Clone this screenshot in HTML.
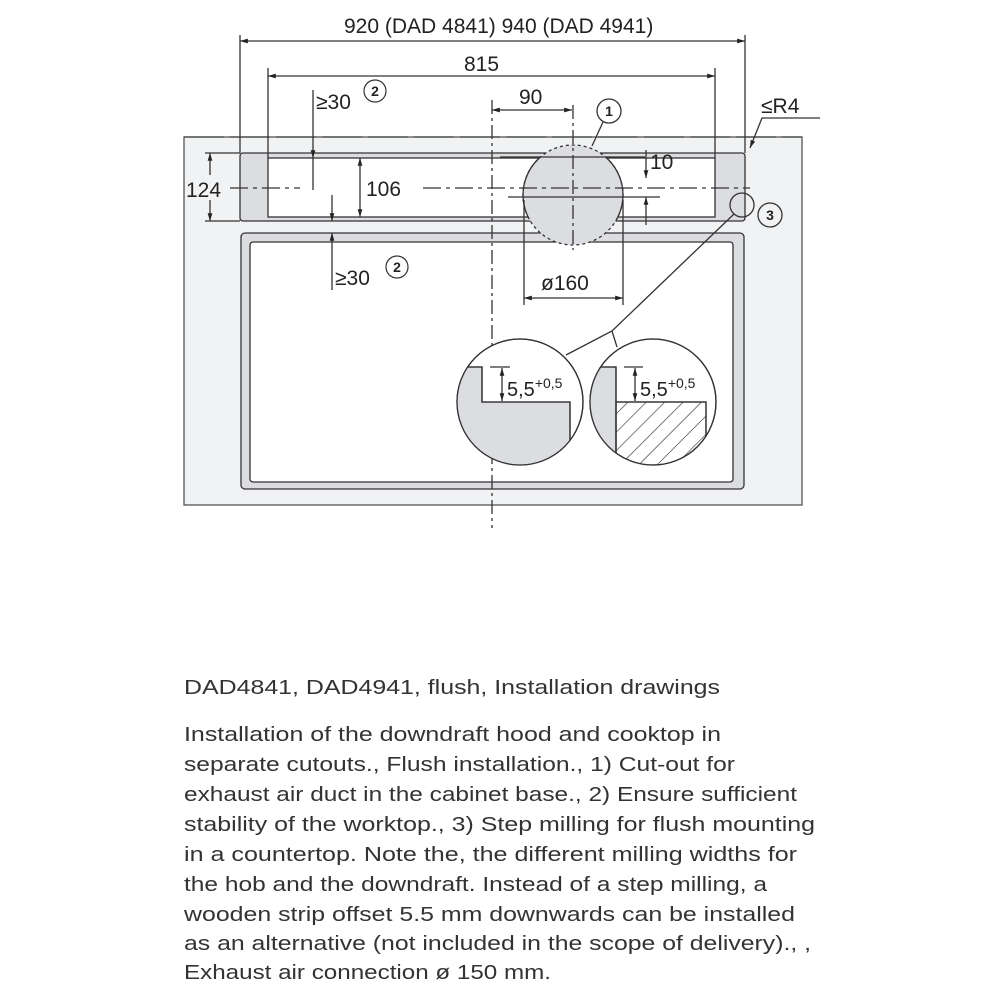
<!DOCTYPE html>
<html><head><meta charset="utf-8"><style>
html,body{margin:0;padding:0;background:#fff;width:1000px;height:1000px;overflow:hidden}
svg{display:block}
text{font-family:"Liberation Sans",sans-serif}
</style></head><body>
<svg width="1000" height="1000" viewBox="0 0 1000 1000" xmlns="http://www.w3.org/2000/svg">
<defs>
<marker id="a" viewBox="0 0 10 10" refX="10" refY="5" markerWidth="10" markerHeight="6" orient="auto-start-reverse"><path d="M0,2 L10,5 L0,8 z" fill="#222"/></marker>
<pattern id="h" patternUnits="userSpaceOnUse" width="13" height="13" patternTransform="rotate(45)"><line x1="0" y1="0" x2="0" y2="13" stroke="#333" stroke-width="1.3"/></pattern>
<clipPath id="cl"><circle cx="520" cy="402" r="63"/></clipPath>
<clipPath id="cr"><circle cx="653" cy="402" r="63"/></clipPath>
<clipPath id="band"><rect x="500" y="157" width="150" height="62"/></clipPath>
</defs>
<g stroke="#333" fill="none" stroke-width="1.3">
<rect x="184" y="137" width="618" height="368" fill="#f1f2f4" stroke="#555"/>
<rect x="240" y="153" width="505" height="68" rx="3" fill="#dcdde0"/>
<rect x="268" y="158" width="447" height="59" fill="#fff"/>
<rect x="241" y="233" width="503" height="256" rx="4" fill="#dcdde0"/>
<rect x="250" y="242" width="483" height="240" rx="3" fill="#fff"/>
<circle cx="573" cy="195" r="50" fill="#dcdde0" stroke-dasharray="3,3"/>
<circle cx="573" cy="195" r="50" clip-path="url(#band)"/>
<line x1="500" y1="157" x2="645" y2="157"/>
<line x1="492" y1="100" x2="492" y2="528" stroke-dasharray="14,4,3,4"/>
<line x1="573" y1="105" x2="573" y2="250" stroke-dasharray="14,4,3,4"/>
<line x1="230" y1="188" x2="300" y2="188" stroke-dasharray="18,5,4,5"/>
<line x1="423" y1="188" x2="750" y2="188" stroke-dasharray="18,5,4,5"/>
<line x1="508" y1="197" x2="660" y2="197"/>
<line x1="184" y1="137" x2="802" y2="137" stroke-dasharray="40,6" stroke="#444"/>
<line x1="240" y1="35" x2="240" y2="153"/>
<line x1="745" y1="35" x2="745" y2="153"/>
<line x1="240" y1="41" x2="745" y2="41" marker-start="url(#a)" marker-end="url(#a)"/>
<line x1="268" y1="68" x2="268" y2="158"/>
<line x1="715" y1="68" x2="715" y2="158"/>
<line x1="268" y1="76" x2="715" y2="76" marker-start="url(#a)" marker-end="url(#a)"/>
<line x1="492" y1="110" x2="572" y2="110" marker-start="url(#a)" marker-end="url(#a)"/>
<line x1="313" y1="90" x2="313" y2="158" marker-end="url(#a)"/>
<line x1="313" y1="158" x2="313" y2="190"/>
<line x1="332" y1="195" x2="332" y2="221" marker-end="url(#a)"/>
<line x1="332" y1="290" x2="332" y2="233" marker-end="url(#a)"/>
<line x1="360" y1="158" x2="360" y2="217" marker-start="url(#a)" marker-end="url(#a)"/>
<line x1="205" y1="153" x2="240" y2="153"/>
<line x1="205" y1="221" x2="240" y2="221"/>
<line x1="210" y1="153" x2="210" y2="175" marker-start="url(#a)"/>
<line x1="210" y1="200" x2="210" y2="221" marker-end="url(#a)"/>
<line x1="646" y1="150" x2="646" y2="178" marker-end="url(#a)"/>
<line x1="646" y1="225" x2="646" y2="197" marker-end="url(#a)"/>
<line x1="524" y1="200" x2="524" y2="305"/>
<line x1="623" y1="200" x2="623" y2="305"/>
<line x1="524" y1="298" x2="623" y2="298" marker-start="url(#a)" marker-end="url(#a)"/>
<polyline points="820,118 762,118 750,148" marker-end="url(#a)"/>
<circle cx="609" cy="111" r="12"/>
<line x1="603" y1="122" x2="592" y2="146"/>
<circle cx="770" cy="215" r="12"/>
<circle cx="742" cy="205" r="12"/>
<polyline points="734,214 612,331 566,355"/>
<line x1="612" y1="331" x2="617" y2="347"/>
<circle cx="520" cy="402" r="63" fill="#fff"/>
<g clip-path="url(#cl)">
<path d="M440,367 L482,367 L482,402 L570,402 L570,480 L440,480 z" fill="#dcdde0"/>
<polyline points="440,367 482,367 482,402 570,402 570,480"/>
<line x1="490" y1="367" x2="510" y2="367"/>
</g>
<circle cx="520" cy="402" r="63"/>
<circle cx="653" cy="402" r="63" fill="#fff"/>
<g clip-path="url(#cr)">
<path d="M580,367 L616,367 L616,480 L580,480 z" fill="#dcdde0"/>
<rect x="616" y="402" width="90" height="80" fill="url(#h)"/>
<polyline points="580,367 616,367 616,480"/>
<polyline points="616,402 706,402 706,480"/>
<line x1="624" y1="367" x2="643" y2="367"/>
</g>
<circle cx="653" cy="402" r="63"/>
<line x1="502" y1="368" x2="502" y2="401" marker-start="url(#a)" marker-end="url(#a)"/>
<line x1="635" y1="368" x2="635" y2="401" marker-start="url(#a)" marker-end="url(#a)"/>
</g>
<g fill="#222" font-size="21">
<text x="344" y="33">920 (DAD 4841) 940 (DAD 4941)</text>
<text x="464" y="71">815</text>
<text x="519" y="104">90</text>
<text x="316" y="109">≥30</text>
<text x="335" y="285">≥30</text>
<text x="366" y="196">106</text>
<text x="186" y="197">124</text>
<text x="650" y="169">10</text>
<text x="541" y="290">ø160</text>
<text x="761" y="113">≤R4</text>
<text x="507" y="396" font-size="20">5,5<tspan font-size="14" dy="-8">+0,5</tspan></text>
<text x="640" y="396" font-size="20">5,5<tspan font-size="14" dy="-8">+0,5</tspan></text>
</g>
<g fill="none" stroke="#333" stroke-width="1.2"><circle cx="375" cy="91" r="11"/><circle cx="397" cy="267" r="11"/></g>
<g fill="#222" font-size="14" font-weight="bold" text-anchor="middle">
<text x="375" y="96">2</text><text x="397" y="272">2</text><text x="609" y="116">1</text><text x="770" y="220">3</text>
</g>
<g fill="#333" font-size="20">
<text x="184" y="694" textLength="536" lengthAdjust="spacingAndGlyphs">DAD4841, DAD4941, flush, Installation drawings</text>
<text x="184" y="741" textLength="537" lengthAdjust="spacingAndGlyphs">Installation of the downdraft hood and cooktop in</text>
<text x="184" y="771" textLength="551" lengthAdjust="spacingAndGlyphs">separate cutouts., Flush installation., 1) Cut-out for</text>
<text x="184" y="801" textLength="613" lengthAdjust="spacingAndGlyphs">exhaust air duct in the cabinet base., 2) Ensure sufficient</text>
<text x="184" y="831" textLength="631" lengthAdjust="spacingAndGlyphs">stability of the worktop., 3) Step milling for flush mounting</text>
<text x="184" y="861" textLength="613" lengthAdjust="spacingAndGlyphs">in a countertop. Note the, the different milling widths for</text>
<text x="184" y="891" textLength="583" lengthAdjust="spacingAndGlyphs">the hob and the downdraft. Instead of a step milling, a</text>
<text x="184" y="921" textLength="611" lengthAdjust="spacingAndGlyphs">wooden strip offset 5.5 mm downwards can be installed</text>
<text x="184" y="950" textLength="627" lengthAdjust="spacingAndGlyphs">as an alternative (not included in the scope of delivery)., ,</text>
<text x="184" y="979" textLength="367" lengthAdjust="spacingAndGlyphs">Exhaust air connection ø 150 mm.</text>
</g>
</svg>
</body></html>
